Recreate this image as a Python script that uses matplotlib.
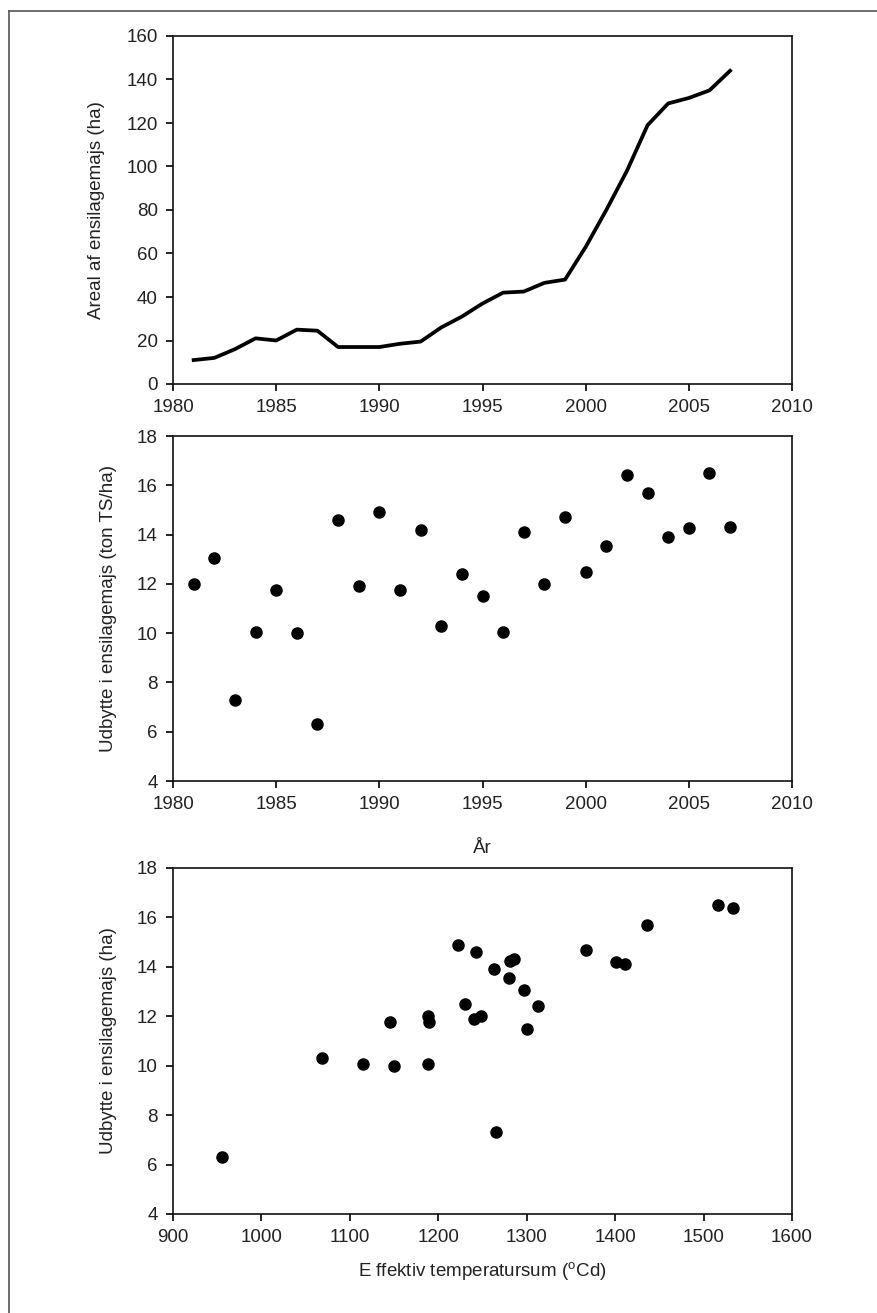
import matplotlib
matplotlib.use("Agg")
import matplotlib.pyplot as plt
from matplotlib.lines import Line2D

plt.rcParams['font.family'] = ['Liberation Sans', 'DejaVu Sans']
plt.rcParams['mathtext.fontset'] = 'custom'
plt.rcParams['mathtext.rm'] = 'Liberation Sans'

# maize silage area and yield per year
years = [1981, 1982, 1983, 1984, 1985, 1986, 1987, 1988, 1989, 1990,
         1991, 1992, 1993, 1994, 1995, 1996, 1997, 1998, 1999, 2000,
         2001, 2002, 2003, 2004, 2005, 2006, 2007]
area_ha = [11, 12, 16, 21, 20, 25, 24.5, 17, 17, 17,
           18.5, 19.5, 26, 31, 37, 42, 42.5, 46.5, 48, 63,
           80, 98, 119, 129, 131.5, 135, 144]
yield_ts = [12.0, 13.05, 7.3, 10.05, 11.75, 10.0, 6.3, 14.6, 11.9, 14.9,
            11.75, 14.2, 10.3, 12.4, 11.5, 10.05, 14.1, 12.0, 14.7, 12.5,
            13.55, 16.4, 15.7, 13.9, 14.25, 16.5, 14.3]
# effective temperature sum for the same years
temp_sum = [1188, 1297, 1265, 1115, 1145, 1150, 955, 1243, 1240, 1222,
            1190, 1401, 1068, 1313, 1300, 1188, 1411, 1248, 1367, 1230,
            1280, 1533, 1436, 1263, 1281, 1516, 1286]

year_ticks = [1980, 1985, 1990, 1995, 2000, 2005, 2010]
area_ticks = [0, 20, 40, 60, 80, 100, 120, 140, 160]
yield_ticks = [4, 6, 8, 10, 12, 14, 16, 18]
temp_ticks = [900, 1000, 1100, 1200, 1300, 1400, 1500, 1600]

W, H = 877, 1313
fig = plt.figure(figsize=(W / 100, H / 100), dpi=100)
txt = '#222222'
fs = 13.5


def box(top, bottom):
    left, right = 173, 792
    return [left / W, 1 - bottom / H, (right - left) / W, (bottom - top) / H]


def style(ax):
    for s in ax.spines.values():
        s.set_linewidth(1.2)
        s.set_color('#111111')
    ax.tick_params(direction='out', length=5, width=1.2, labelsize=fs,
                   labelcolor=txt, top=False, right=False, pad=6)


ax1 = fig.add_axes(box(36, 384))
ax2 = fig.add_axes(box(436, 781))
ax3 = fig.add_axes(box(868, 1214))

# area line
ax1.plot(years, area_ha, color='black', lw=2.7)
ax1.set_xlim(1980, 2010)
ax1.set_ylim(0, 160)
ax1.set_xticks(year_ticks)
ax1.set_yticks(area_ticks)
ax1.set_ylabel('Areal af ensilagemajs (ha)', fontsize=fs, color=txt)
ax1.yaxis.set_label_coords(-0.11, 0.5)
style(ax1)

# yield per year
ax2.plot(years, yield_ts, 'o', color='black', ms=8)
ax2.set_xlim(1980, 2010)
ax2.set_ylim(4, 18)
ax2.set_xticks(year_ticks)
ax2.set_yticks(yield_ticks)
ax2.set_ylabel('Udbytte i ensilagemajs (ton TS/ha)', fontsize=fs, color=txt)
ax2.yaxis.set_label_coords(-0.09, 0.5)
ax2.set_xlabel('År', fontsize=fs, color=txt)
ax2.xaxis.set_label_coords(0.5, -0.17)
style(ax2)

# yield vs temperature sum
ax3.plot(temp_sum, yield_ts, 'o', color='black', ms=8)
ax3.set_xlim(900, 1600)
ax3.set_ylim(4, 18)
ax3.set_xticks(temp_ticks)
ax3.set_yticks(yield_ticks)
ax3.set_ylabel('Udbytte i ensilagemajs (ha)', fontsize=fs, color=txt)
ax3.yaxis.set_label_coords(-0.09, 0.5)
ax3.set_xlabel('E ffektiv temperatursum ($^{\\rm o}$Cd)', fontsize=fs, color=txt)
ax3.xaxis.set_label_coords(0.5, -0.135)
style(ax3)

# thin outer frame
fig.add_artist(Line2D([9 / W, 9 / W], [0, 1 - 11 / H], transform=fig.transFigure,
                      color='#555555', lw=1.2))
fig.add_artist(Line2D([9 / W, 1], [1 - 11 / H, 1 - 11 / H], transform=fig.transFigure,
                      color='#555555', lw=1.2))

fig.savefig('out.png', dpi=100)
